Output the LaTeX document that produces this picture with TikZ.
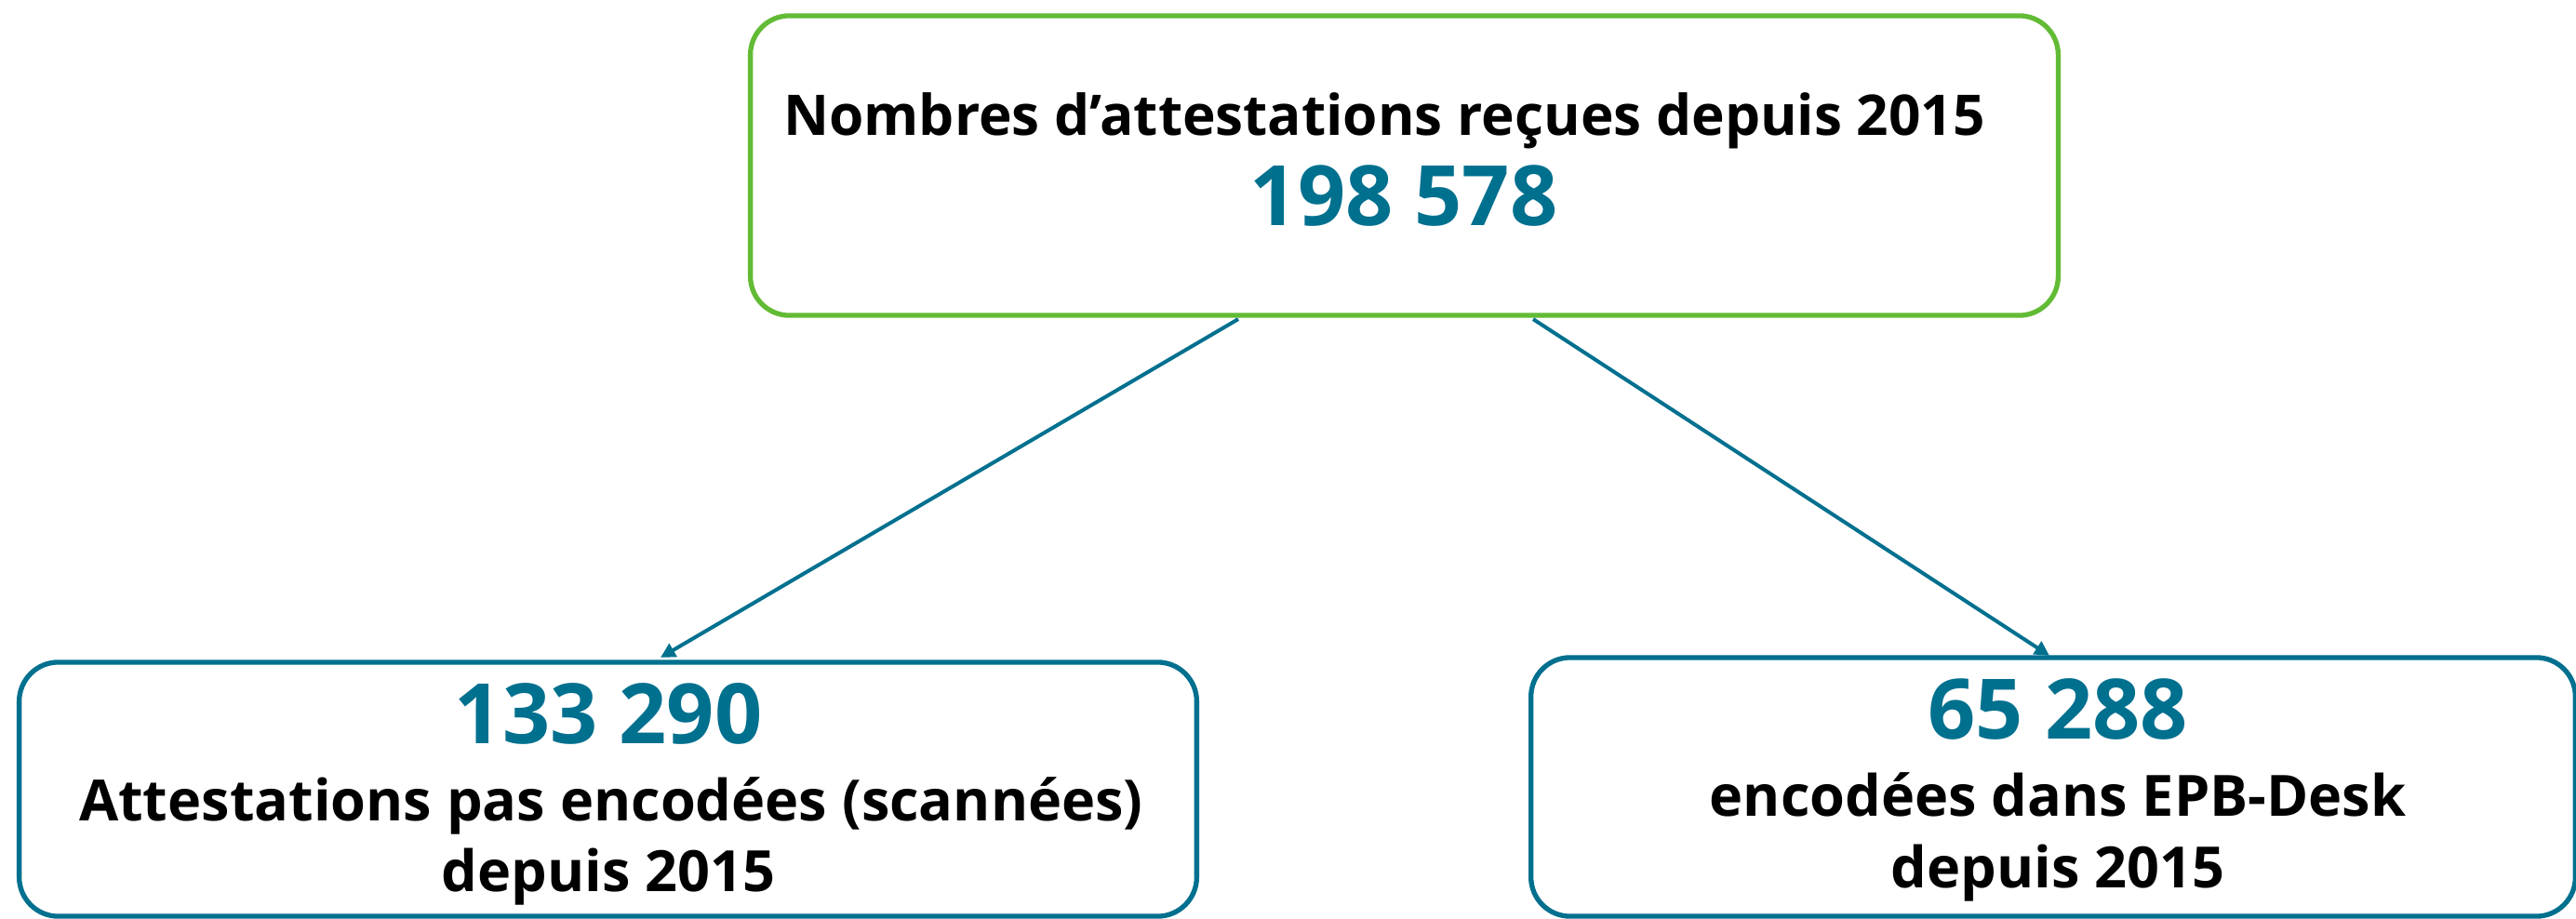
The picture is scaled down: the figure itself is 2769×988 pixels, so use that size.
\documentclass[tikz,border=0pt]{standalone}
\usepackage{fontspec}
\setmainfont{Open Sans}
\usetikzlibrary{arrows.meta,calc}
\definecolor{boxgreen}{RGB}{98,187,53}
\definecolor{boxblue}{RGB}{0,112,143}
\begin{document}
\begin{tikzpicture}[x=0.01cm,y=-0.01cm,
  boxshape/.style={draw,rounded corners=0.42cm,line width=0.053cm,inner sep=0pt,outer sep=0pt,fill=white},
  lbl/.style={anchor=base,inner sep=0pt,font=\fontsize{17.15pt}{20pt}\selectfont\bfseries,text=black},
  num/.style={anchor=base,inner sep=0pt,font=\fontsize{25.5pt}{30pt}\selectfont\bfseries,text=boxblue},
  sub/.style={anchor=base,inner sep=0pt,font=\fontsize{17.4pt}{20pt}\selectfont\bfseries,text=black},
  arr/.style={draw=boxblue,line width=0.04cm,-{Triangle[length=4.5pt,width=4.5pt]}}]
\useasboundingbox[fill=white] (0,0) rectangle (2769,988);
\node[boxshape,draw=boxgreen,minimum width=14.05cm,minimum height=3.22cm] (top) at (1509.5,178) {};
\node[boxshape,draw=boxblue,minimum width=12.65cm,minimum height=2.73cm] (left) at (653.5,848.5) {};
\node[boxshape,draw=boxblue,minimum width=11.22cm,minimum height=2.78cm] (right) at (2207,846) {};
\node[lbl] (t1) at (1488,146) {Nombres d’attestations reçues depuis 2015};
\node[num] (n1) at (1509,242) {198 578};
\node[num] (n2) at (654,799) {133 290};
\node[sub] (l2a) at (657,882) {Attestations pas encodées (scannées)};
\node[sub] (l2b) at (654,958) {depuis 2015};
\node[num] (n3) at (2212,794) {65 288};
\node[sub] (l3a) at (2212,877) {encodées dans EPB-Desk};
\node[sub] (l3b) at (2212,954) {depuis 2015};
\draw[arr] ($(top.south)+(-178.5,4)$) -- ($(left.north)+(56.5,-5)$);
\draw[arr] ($(top.south)+(138.5,4)$) -- ($(right.north)+(-4,-2)$);
\end{tikzpicture}
\end{document}
